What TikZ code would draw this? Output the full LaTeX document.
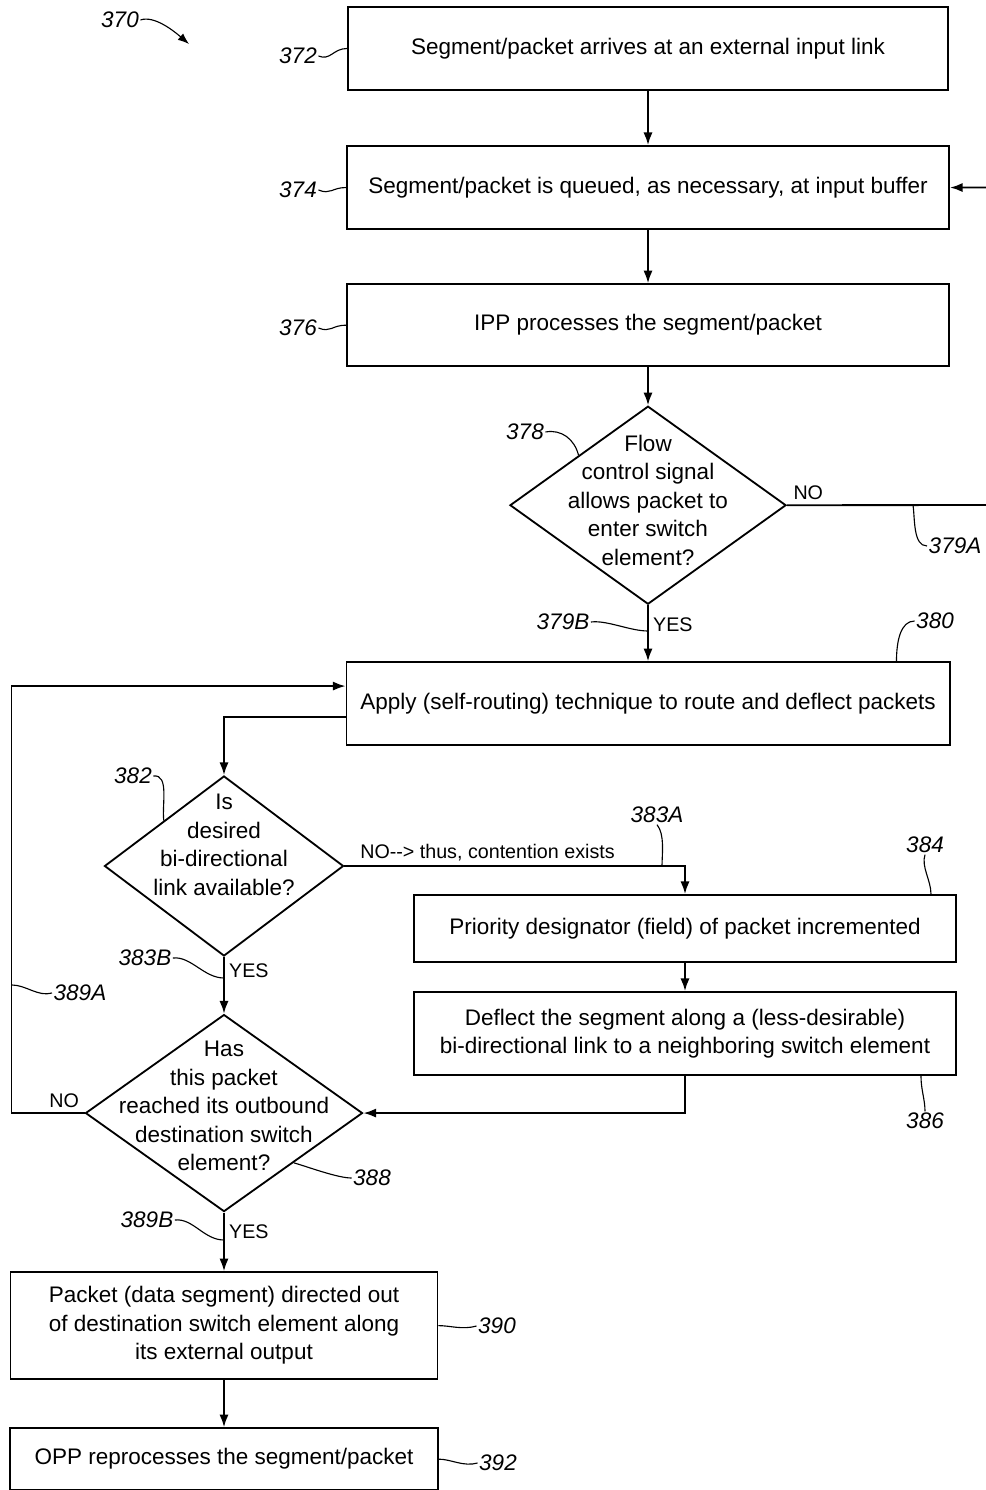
\documentclass[tikz,border=0pt]{standalone}
\usepackage{fontspec}
\setmainfont{Liberation Sans}
\usetikzlibrary{shapes.geometric, arrows.meta, positioning}

\tikzset{
  stepbox/.style = {draw, line width=1.3pt, minimum height=2.075cm, align=center, inner sep=0pt},
  decision/.style = {draw, line width=1.3pt, diamond, inner sep=0pt},
  question/.style = {align=center, inner sep=0pt},
  flow/.style = {line width=1.3pt, -{Latex[length=9pt, width=6.5pt]}},
  answer/.style = {font=\fontsize{14}{17}\selectfont, inner sep=3pt},
  refnum/.style = {font=\fontsize{16}{19}\selectfont\itshape, inner sep=1pt},
  lead/.style = {line width=0.8pt},
}

\begin{document}
\begin{tikzpicture}[x=0.025cm, y=-0.025cm, node distance=3.5cm, on grid,
    font=\fontsize{16}{20.3}\selectfont]
\useasboundingbox (0,0) rectangle (985,1490);

% main column
\node[stepbox, minimum width=15cm] (b372) at (648,48.5) {Segment/packet arrives at an external input link};
\node[stepbox, minimum width=15.05cm, below=3.475cm of b372] (b374) {Segment/packet is queued, as necessary, at input buffer};
\node[stepbox, minimum width=15.05cm, minimum height=2.05cm, below=3.44cm of b374] (b376) {IPP processes the segment/packet};
\node[decision, minimum width=6.9cm, minimum height=4.95cm, below=4.5cm of b376] (d378) {};
\node[question] (q378) at ([yshift=0.125cm]d378.center) {Flow\\control signal\\allows packet to\\enter switch\\element?};
\node[stepbox, minimum width=15.075cm, below=4.96cm of d378] (b380) {Apply (self-routing) technique to route and deflect packets};

% routing loop
\node[decision, minimum width=5.975cm, minimum height=4.5cm] (d382) at (224,866) {};
\node[question] (q382) at ([yshift=0.525cm]d382.center) {Is\\desired\\bi-directional\\link available?};
\node[stepbox, minimum width=13.55cm, minimum height=1.675cm] (b384) at (685,928.5) {Priority designator (field) of packet incremented};
\node[stepbox, minimum width=13.55cm, below=2.625cm of b384] (b386) {Deflect the segment along a (less-desirable)\\bi-directional link to a neighboring switch element};
\node[decision, minimum width=6.925cm, minimum height=4.925cm, below=6.175cm of d382] (d388) {};
\node[question] (q388) at ([yshift=0.175cm]d388.center) {Has\\this packet\\reached its outbound\\destination switch\\element?};
\node[stepbox, minimum width=10.675cm, minimum height=2.675cm, below=5.3125cm of d388] (b390) {Packet (data segment) directed out\\of destination switch element along\\its external output};
\node[stepbox, minimum width=10.7cm, minimum height=1.55cm, below=3.3375cm of b390] (b392) {OPP reprocesses the segment/packet};

% connectors
\coordinate (r379) at (1000,505);
\path[flow]
    (b372) edge (b374)
    (b374) edge (b376)
    (b376) edge (d378)
    (d378) edge node[answer, right, pos=0.35] {YES} (b380)
    (d382) edge node[answer, right, pos=0.24] {YES} (d388)
    (b384) edge (b386)
    (d388) edge node[answer, right, pos=0.33] {YES} (b390)
    (b390) edge (b392);
\draw[flow] (d378.east) -- node[answer, pos=0.1, above] {NO} (r379) |- (b374.east);
\draw[flow] ([yshift=-0.34cm]b380.west) -| (d382.north);
\draw[flow] (d382.east) -| node[answer, pos=0.21, above] {NO-{}-> thus, contention exists} (b384.north);
\draw[flow] (b386.south) |- (d388.east);
\draw[flow] (d388.west) -- node[answer, pos=0.28, above] {NO} ++(-73,0) |- ([yshift=0.44cm]b380.west);

% reference numerals
\node[refnum] (n370) at (120,20) {370};
\coordinate (c370) at (189,44);
\draw[lead, -{Latex[length=8pt, width=6pt]}] (n370.east) .. controls +(14,-5) and +(-14,-12) .. (c370);

\node[refnum] (n372) at (298,56) {372};
\draw[lead] (n372.east) .. controls +(12,5) and +(-14,0) .. (b372.west);
\node[refnum] (n374) at (298,190) {374};
\draw[lead] (n374.east) .. controls +(12,5) and +(-14,0) .. (b374.west);
\node[refnum] (n376) at (298,328) {376};
\draw[lead] (n376.east) .. controls +(12,5) and +(-14,0) .. (b376.west);

\node[refnum] (n378) at (525,432) {378};
\draw[lead] (n378.east) .. controls +(16,-3) and +(-4,-16) .. (d378.north west);
\node[refnum] (n379A) at (955,546) {379A};
\coordinate (t379A) at (913,505);
\draw[lead] (n379A.west) .. controls +(-14,0) and +(2,14) .. (t379A);
\node[refnum] (n379B) at (563,622) {379B};
\coordinate (t379B) at (648,631);
\draw[lead] (n379B.east) .. controls +(16,-2) and +(-18,0) .. (t379B);
\node[refnum] (n380) at (935,621) {380};
\draw[lead] (n380.west) .. controls +(-14,0) and +(0,-20) .. ([xshift=-1.35cm]b380.north east);

\node[refnum] (n382) at (133,776) {382};
\draw[lead] (n382.east) .. controls +(16,-2) and +(-2,-16) .. (d382.north west);
\node[refnum] (n383A) at (657,815) {383A};
\coordinate (t383A) at (662,866);
\draw[lead] (n383A.south) .. controls +(8,10) and +(0,-12) .. (t383A);
\node[refnum] (n384) at (925,845) {384};
\draw[lead] (n384.south) .. controls +(-4,12) and +(0,-14) .. ([xshift=-0.65cm]b384.north east);
\node[refnum] (n383B) at (145,958) {383B};
\coordinate (t383B) at (224,978);
\draw[lead] (n383B.east) .. controls +(18,-2) and +(-20,0) .. (t383B);
\node[refnum] (n389A) at (80,993) {389A};
\coordinate (t389A) at (12,985);
\draw[lead] (n389A.west) .. controls +(-14,4) and +(14,0) .. (t389A);
\node[refnum] (n386) at (925,1121) {386};
\draw[lead] (n386.north) .. controls +(0,-12) and +(0,14) .. ([xshift=-0.9cm]b386.south east);
\node[refnum] (n388) at (372,1178) {388};
\draw[lead] (n388.west) .. controls +(-14,0) and +(14,4) .. (d388.south east);
\node[refnum] (n389B) at (147,1220) {389B};
\coordinate (t389B) at (224,1240);
\draw[lead] (n389B.east) .. controls +(18,-2) and +(-20,0) .. (t389B);
\node[refnum] (n390) at (497,1326) {390};
\draw[lead] (n390.west) .. controls +(-14,4) and +(12,0) .. (b390.east);
\node[refnum] (n392) at (498,1463) {392};
\draw[lead] (n392.west) .. controls +(-14,4) and +(12,0) .. (b392.east);
\end{tikzpicture}
\end{document}
